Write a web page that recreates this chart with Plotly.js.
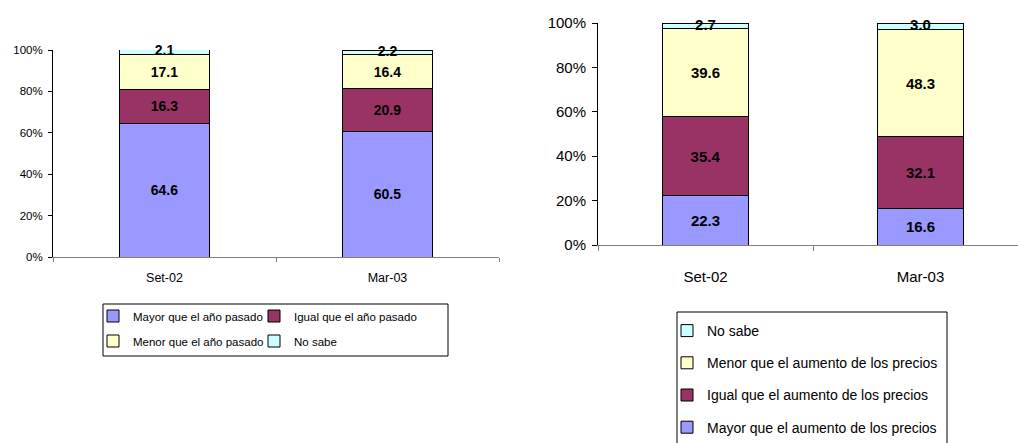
<!DOCTYPE html>
<html>
<head>
<meta charset="utf-8">
<script src="https://cdn.plot.ly/plotly-3.0.1.min.js"></script>
<style>html,body{margin:0;padding:0;background:#fff;}#chart{width:1018px;height:443px;}</style>
</head>
<body>
<div id="chart"></div>
<script>
// Categories
const categories = ['Set-02', 'Mar-03'];

// Left chart: compared with last year
const mayorAnio = [64.6, 60.5];
const igualAnio = [16.3, 20.9];
const menorAnio = [17.1, 16.4];
const noSabeAnio = [2.1, 2.2];
const namesAnio = ['Mayor que el año pasado', 'Igual que el año pasado', 'Menor que el año pasado', 'No sabe'];

// Right chart: compared with price increase
const mayorPrecios = [22.3, 16.6];
const igualPrecios = [35.4, 32.1];
const menorPrecios = [39.6, 48.3];
const noSabePrecios = [2.7, 3.0];
const namesPrecios = ['Mayor que el aumento de los precios', 'Igual que el aumento de los precios', 'Menor que el aumento de los precios', 'No sabe'];

const yTicks = [0, 20, 40, 60, 80, 100];
const yTickText = yTicks.map(v => v + '%');

const colors = ['#9999FF', '#993366', '#FFFFCC', '#CCFFFF'];
const FONT = 'Arial, "Liberation Sans", sans-serif';

function mk(vals, name, color, xa, ya, legend, fontSize, group, rank, withText) {
  return {
    type: 'bar', x: categories, y: vals, name: name,
    xaxis: xa, yaxis: ya, legend: legend, legendgroup: group, legendrank: rank,
    marker: {color: color, line: {color: '#000', width: 1}},
    texttemplate: withText ? '%{y:.1f}' : '', textposition: withText ? 'inside' : 'none',
    insidetextanchor: 'middle',
    textangle: 0, constraintext: 'none', cliponaxis: false,
    textfont: {family: FONT, size: fontSize, color: '#000', weight: 'bold'},
    hoverinfo: 'skip'
  };
}

// label for the thin top segment, placed at the segment centre
function topLabel(series, xa, ya, fontSize) {
  const top = series[3];
  const mids = top.map((v, i) => series[0][i] + series[1][i] + series[2][i] + v / 2);
  return {
    type: 'scatter', mode: 'text', x: categories, y: mids, xaxis: xa, yaxis: ya,
    text: top.map(v => v.toFixed(1)), textposition: 'middle center', showlegend: false,
    cliponaxis: false, hoverinfo: 'skip',
    textfont: {family: FONT, size: fontSize, color: '#000', weight: 'bold'}
  };
}

const leftSeries = [mayorAnio, igualAnio, menorAnio, noSabeAnio];
const rightSeries = [mayorPrecios, igualPrecios, menorPrecios, noSabePrecios];
const leftLegends = ['legend', 'legend2', 'legend3', 'legend4'];

const data = [];
leftSeries.forEach((s, i) => data.push(mk(s, namesAnio[i], colors[i], 'x', 'y', leftLegends[i], 14, 'a' + i, i + 1, i < 3)));
rightSeries.forEach((s, i) => data.push(mk(s, namesPrecios[i], colors[i], 'x2', 'y2', 'legend5', 15, 'b' + i, 4 - i, i < 3)));
data.push(topLabel(leftSeries, 'x', 'y', 14));
data.push(topLabel(rightSeries, 'x2', 'y2', 15));

const H = 443, W = 1018;

function smallLegend(px, py) {
  return {
    orientation: 'v', x: px / W, xanchor: 'left', y: 1 - py / H, yanchor: 'middle',
    bgcolor: 'rgba(0,0,0,0)', borderwidth: 0, font: {size: 11.5, family: FONT}
  };
}

const layout = {
  width: W, height: H,
  margin: {l: 0, r: 0, t: 0, b: 0},
  paper_bgcolor: '#fff', plot_bgcolor: 'rgba(0,0,0,0)',
  barmode: 'stack', bargap: 0.6,
  showlegend: true,
  font: {family: FONT, color: '#000'},
  xaxis: {
    domain: [53 / W, 499 / W], range: [-0.5, 1.5], type: 'category',
    tickson: 'boundaries', ticks: 'outside', ticklen: 4, tickcolor: '#808080',
    showline: true, linecolor: '#808080', linewidth: 1, showgrid: false, zeroline: false,
    tickfont: {size: 12.5, family: FONT}, ticklabelstandoff: 9, anchor: 'y', fixedrange: true
  },
  yaxis: {
    domain: [1 - 257 / H, 1 - 50 / H], range: [0, 100],
    tickmode: 'array', tickvals: yTicks, ticktext: yTickText, ticks: 'outside', ticklen: 4, tickcolor: '#000',
    showline: true, linecolor: '#000', linewidth: 1, showgrid: false, zeroline: false,
    tickfont: {size: 11.5, family: FONT}, ticklabelstandoff: 3, anchor: 'x', fixedrange: true
  },
  xaxis2: {
    domain: [598 / W, 1], range: [-0.5, -0.5 + 420 / 215], type: 'category',
    tickson: 'boundaries', ticks: 'outside', ticklen: 5, tickcolor: '#808080',
    showline: true, linecolor: '#808080', linewidth: 1, showgrid: false, zeroline: false,
    tickfont: {size: 15, family: FONT}, ticklabelstandoff: 18, anchor: 'y2', fixedrange: true
  },
  yaxis2: {
    domain: [1 - 245 / H, 1 - 23 / H], range: [0, 100],
    tickmode: 'array', tickvals: yTicks, ticktext: yTickText, ticks: 'outside', ticklen: 5, tickcolor: '#000',
    showline: true, linecolor: '#000', linewidth: 1, showgrid: false, zeroline: false,
    tickfont: {size: 15, family: FONT}, ticklabelstandoff: 3, anchor: 'x2', fixedrange: true
  },
  legend: smallLegend(93, 316),
  legend2: smallLegend(254, 316),
  legend3: smallLegend(93, 341),
  legend4: smallLegend(254, 341),
  legend5: {
    orientation: 'v', x: 667 / W, xanchor: 'left', y: 1 - 315 / H, yanchor: 'top',
    bgcolor: 'rgba(0,0,0,0)', borderwidth: 0, font: {size: 14, family: FONT},
    traceorder: 'grouped', tracegroupgap: 11
  },
  shapes: [
    {type: 'rect', xref: 'paper', yref: 'paper', x0: 103 / W, x1: 448 / W, y0: 1 - 356 / H, y1: 1 - 304 / H,
     line: {color: '#000', width: 1}, fillcolor: 'rgba(0,0,0,0)', layer: 'below'},
    {type: 'rect', xref: 'paper', yref: 'paper', x0: 677 / W, x1: 947 / W, y0: -0.2, y1: 1 - 312 / H,
     line: {color: '#000', width: 1}, fillcolor: 'rgba(0,0,0,0)', layer: 'below'}
  ]
};

Plotly.newPlot('chart', data, layout, {displayModeBar: false, staticPlot: true});
</script>
</body>
</html>
